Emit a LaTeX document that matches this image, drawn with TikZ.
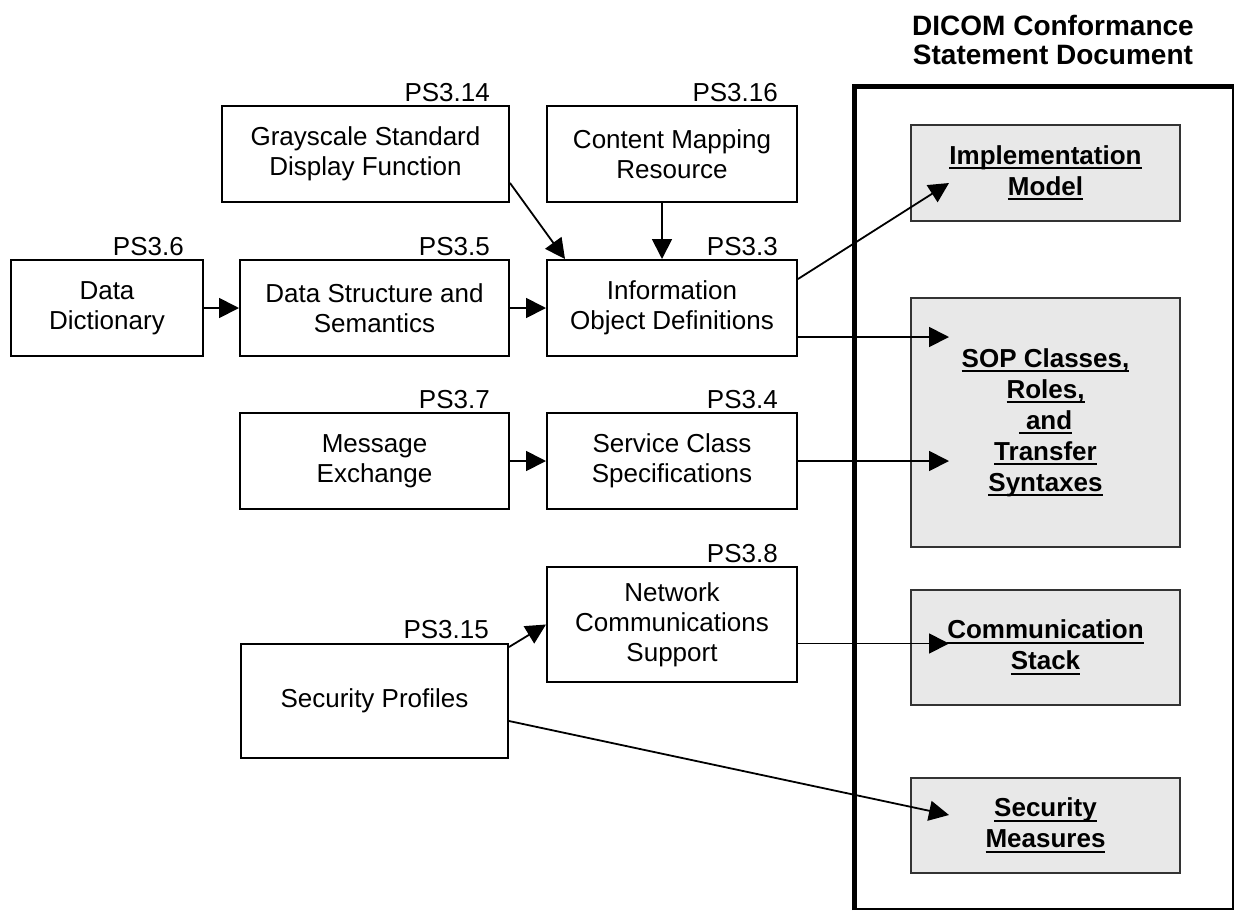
\documentclass[tikz,border=0pt]{standalone}
\usepackage{fontspec}
\setmainfont{Liberation Sans}
\usetikzlibrary{arrows.meta}
\newcommand\myul[1]{\setbox0\hbox{#1}\rlap{\rule[-5pt]{\wd0}{2.4pt}}\box0}
\begin{document}
\begin{tikzpicture}[x=1pt,y=-1pt,
  box/.style={draw, line width=2pt, inner sep=0pt, align=center, font=\fontsize{26}{30}\selectfont},
  gbox/.style={draw=black!80, fill=black!9, line width=2.5pt, inner sep=0pt, align=center, font=\fontsize{26}{31}\selectfont\bfseries},
  lbl/.style={font=\fontsize{26}{30}\selectfont, inner sep=0pt, anchor=base east},
  arr/.style={line width=1.8pt, -{Triangle[length=20pt,width=20pt]}},
  line join=miter]
\useasboundingbox (0,0) rectangle (1236,911);

% title
\node[font=\fontsize{28}{29}\selectfont\bfseries, align=center, inner sep=0pt] (title) at (1053,40) {DICOM Conformance\\Statement Document};

% document frame
\node[draw, line width=2pt, minimum width=378pt, minimum height=822pt, inner sep=0pt] (doc) at (1044,498) {};
\draw[line width=5pt] (doc.south west) -- (doc.north west) -- (doc.north east);

% left boxes
\node[box, minimum width=192pt, minimum height=96pt] (DD) at (107,308) {Data\\Dictionary};
\node[box, minimum width=269pt, minimum height=96pt] (DSS) at (374.5,308) {Data Structure and\\Semantics};
\node[box, minimum width=250pt, minimum height=96pt] (IOD) at (672,308) {Information\\Object Definitions};
\node[box, minimum width=287pt, minimum height=96pt] (GSDF) at (365.5,154) {Grayscale Standard\\Display Function};
\node[box, minimum width=250pt, minimum height=96pt] (CMR) at (672,154) {Content Mapping\\Resource};
\node[box, minimum width=269pt, minimum height=96pt] (ME) at (374.5,461) {Message\\Exchange};
\node[box, minimum width=250pt, minimum height=96pt] (SCS) at (672,461) {Service Class\\Specifications};
\node[box, minimum width=250pt, minimum height=115pt] (NCS) at (672,624.5) {Network\\Communications\\Support};
\node[box, minimum width=267pt, minimum height=114pt] (SP) at (374.5,701) {Security Profiles};

% labels
\node[lbl] (l6) at ([xshift=-20pt,yshift=4pt]DD.north east) {PS3.6};
\node[lbl] (l5) at ([xshift=-20pt,yshift=4pt]DSS.north east) {PS3.5};
\node[lbl] (l3) at ([xshift=-20pt,yshift=4pt]IOD.north east) {PS3.3};
\node[lbl] (l14) at ([xshift=-20pt,yshift=4pt]GSDF.north east) {PS3.14};
\node[lbl] (l16) at ([xshift=-20pt,yshift=4pt]CMR.north east) {PS3.16};
\node[lbl] (l7) at ([xshift=-20pt,yshift=4pt]ME.north east) {PS3.7};
\node[lbl] (l4) at ([xshift=-20pt,yshift=4pt]SCS.north east) {PS3.4};
\node[lbl] (l8) at ([xshift=-20pt,yshift=4pt]NCS.north east) {PS3.8};
\node[lbl] (l15) at ([xshift=-20pt,yshift=5pt]SP.north east) {PS3.15};

% gray boxes
\node[gbox, minimum width=269pt, minimum height=96pt] (IM) at (1045.5,173) {\myul{Implementation}\\\myul{Model}};
\node[gbox, minimum width=269pt, minimum height=249pt] (SOP) at (1045.5,422.5) {\myul{SOP Classes,}\\\myul{Roles,}\\\myul{\phantom{i}and}\\\myul{Transfer}\\\myul{Syntaxes}};
\node[gbox, minimum width=269pt, minimum height=115pt] (CS) at (1045.5,647.5) {\myul{Communication}\\\myul{Stack}};
\node[gbox, minimum width=269pt, minimum height=95pt] (SM) at (1045.5,825.5) {\myul{Security}\\\myul{Measures}};

% arrow ends inside the document
\coordinate (imIn) at (949,183);
\coordinate (sopInA) at (949,337);
\coordinate (sopInB) at (949,461);
\coordinate (csIn) at (949,643.5);
\coordinate (smIn) at (949,815);

% connectors
\draw[arr] (DD.east) -- (DSS.west);
\draw[arr] (DSS.east) -- (IOD.west);
\draw[arr] ([yshift=-29pt]GSDF.east) -- ([xshift=19pt]IOD.north west);
\draw[arr] ([xshift=-10pt]CMR.south) -- ([xshift=-10pt]IOD.north);
\draw[arr] ([yshift=29pt]IOD.east) -- (imIn);
\draw[arr] ([yshift=-29pt]IOD.east) -- (sopInA);
\draw[arr] (ME.east) -- (SCS.west);
\draw[arr] (SCS.east) -- (sopInB);
\draw[arr] ([yshift=-4pt]SP.north east) -- (NCS.west);
\draw[arr] ([yshift=-19pt]NCS.east) -- (csIn);
\draw[arr] ([yshift=-20pt]SP.east) -- (smIn);
\end{tikzpicture}
\end{document}
